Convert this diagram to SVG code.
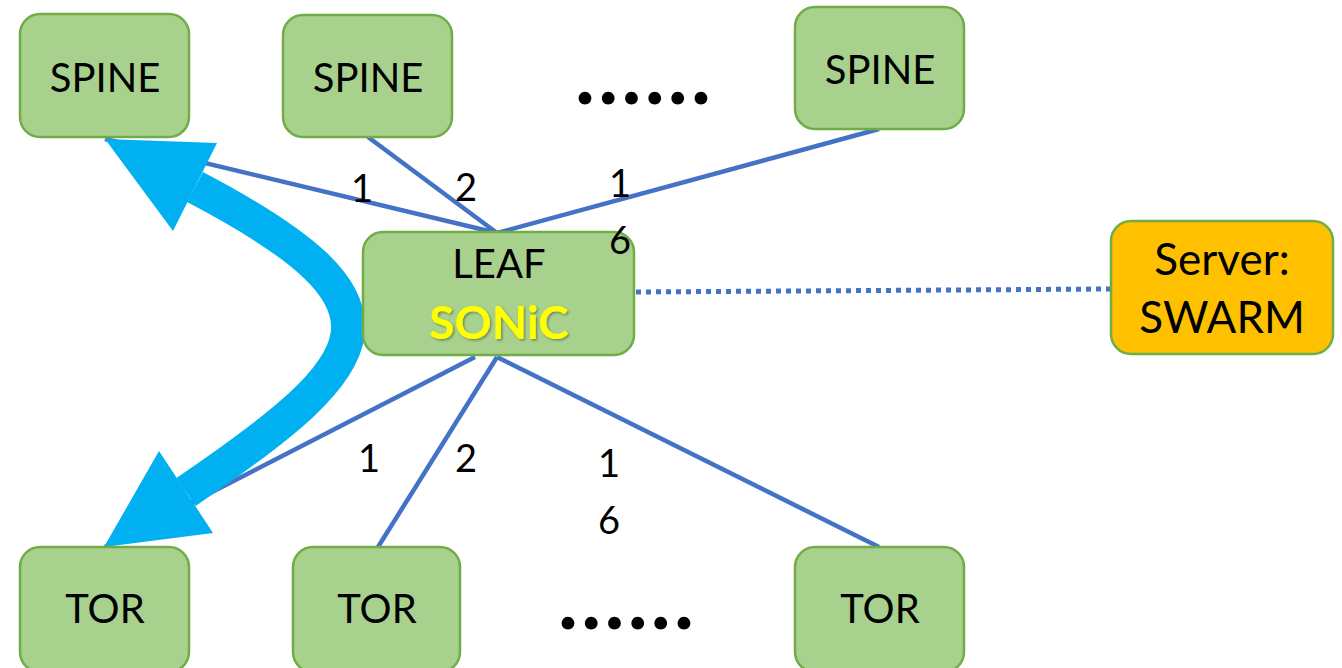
<svg xmlns="http://www.w3.org/2000/svg" width="1342" height="668" viewBox="0 0 1342 668">
<defs>
<style>
.node{fill:#A9D18E;stroke:#70AD47;stroke-width:2.5}
.srv{fill:#FFC000;stroke:#70AD47;stroke-width:2.5}
.t{font-family:Lato,"Open Sans","Liberation Sans",sans-serif;font-size:40px;fill:#000;text-anchor:middle}
.s{font-family:Lato,"Open Sans","Liberation Sans",sans-serif;font-size:44px;fill:#000;text-anchor:middle}
.n{font-family:Lato,"Open Sans","Liberation Sans",sans-serif;font-size:38px;fill:#000;text-anchor:middle}
.dots{font-family:Lato,"Liberation Sans",sans-serif;font-size:84px;font-weight:bold;fill:#000}
.ln{stroke:#4472C4;stroke-width:4.5;fill:none}
</style>
<filter id="sh" x="-10%" y="-10%" width="120%" height="130%"><feDropShadow dx="1.5" dy="1.5" stdDeviation="1" flood-color="#000" flood-opacity="0.35"/></filter>
</defs>
<rect width="1342" height="668" fill="#fff"/>
<g id="connectors">
<line class="ln" x1="105" y1="139" x2="497" y2="233"/>
<line class="ln" x1="368" y1="137" x2="497" y2="233"/>
<line class="ln" x1="879" y1="129" x2="497" y2="233"/>
<line class="ln" x1="475" y1="357" x2="105" y2="547"/>
<line class="ln" x1="497" y1="357" x2="378" y2="547"/>
<line class="ln" x1="497" y1="357" x2="879" y2="547"/>
<line x1="636" y1="292" x2="1110" y2="289" stroke="#4472C4" stroke-width="5" stroke-dasharray="5 5"/>
</g>
<g id="flow-arrow" fill="#00B0F0">
<path d="M195,187 C420,305 380,360 186,492" stroke="#00B0F0" stroke-width="34" fill="none"/>
<polygon points="105,139 217,143 173,231"/>
<polygon points="104,547 159,451 213,533"/>
</g>
<g id="spine1"><rect class="node" x="20" y="14" width="169" height="123" rx="20"/><text class="t" x="105" y="92">SPINE</text></g>
<g id="spine2"><rect class="node" x="283" y="15" width="169" height="122" rx="20"/><text class="t" x="368" y="92">SPINE</text></g>
<g id="spine3"><rect class="node" x="795" y="7" width="169" height="122" rx="20"/><text class="t" x="880" y="84">SPINE</text></g>
<g id="leaf"><rect class="node" x="363" y="232" width="271" height="123" rx="20"/><text class="t" x="499" y="278">LEAF</text><text x="499" y="339" text-anchor="middle" font-family="Lato,'Open Sans','Liberation Sans',sans-serif" font-size="46" font-weight="bold" fill="#FFFF00" filter="url(#sh)">SONiC</text></g>
<g id="server"><rect class="srv" x="1111" y="221" width="222" height="133" rx="20"/><text class="s" x="1222" y="275">Server:</text><text class="s" x="1222" y="333">SWARM</text></g>
<g id="tor1"><rect class="node" x="20" y="547" width="169" height="125" rx="20"/><text class="t" x="105" y="623">TOR</text></g>
<g id="tor2"><rect class="node" x="293" y="547" width="167" height="125" rx="20"/><text class="t" x="377" y="623">TOR</text></g>
<g id="tor3"><rect class="node" x="795" y="547" width="169" height="125" rx="20"/><text class="t" x="880" y="623">TOR</text></g>
<g id="labels">
<text class="n" x="362" y="202">1</text>
<text class="n" x="466" y="201">2</text>
<text class="n" x="620" y="197">1</text>
<text class="n" x="620" y="254">6</text>
<text class="n" x="369" y="472">1</text>
<text class="n" x="466" y="472">2</text>
<text class="n" x="609" y="477">1</text>
<text class="n" x="609" y="534">6</text>
<text class="dots" x="575" y="104" textLength="136" lengthAdjust="spacing">......</text>
<text class="dots" x="558" y="629" textLength="136" lengthAdjust="spacing">......</text>
</g>
</svg>
